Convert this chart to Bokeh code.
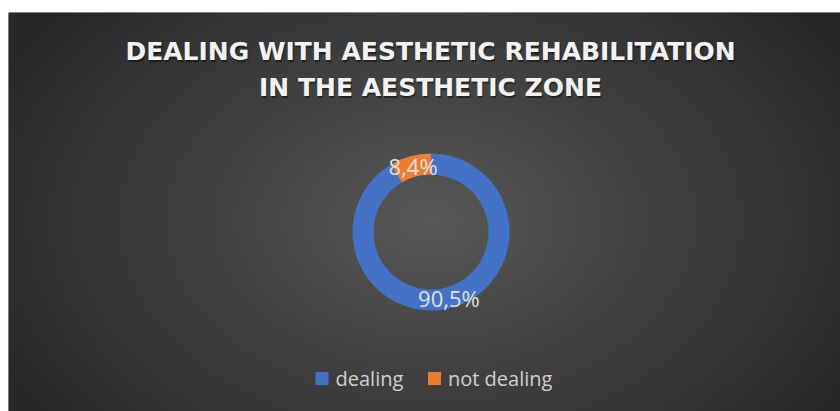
import numpy as np
from bokeh.plotting import figure
from bokeh.models import Range1d, ColumnDataSource
from bokeh.core.properties import value
from bokeh.embed import file_html
from bokeh.resources import INLINE

# ---- data ----
title_lines = ["DEALING WITH AESTHETIC REHABILITATION", "IN THE AESTHETIC ZONE"]
categories = ["dealing", "not dealing"]
percent_values = [90.5, 8.4]
slice_colors = ["#4472C4", "#ED7D31"]

# ---- figure (frame in pixel-like units) ----
FW, FH = 832, 399
p = figure(width=840, height=411, output_backend="svg", toolbar_location=None,
           x_range=Range1d(0, FW), y_range=Range1d(0, FH),
           x_axis_location=None, y_axis_location=None,
           min_border_left=8, min_border_right=0, min_border_bottom=0, min_border_top=12)
p.grid.visible = False
p.outline_line_color = None
p.border_fill_color = "white"
p.background_fill_color = "#3a3a3a"

# radial dark gradient background
xs = np.arange(FW) + 0.5
ys = np.arange(FH) + 0.5
X, Y = np.meshgrid(xs, ys)
gcx, gcy = 422, 191
t = np.clip(np.sqrt(((X - gcx) / 480.0) ** 2 + ((Y - gcy) / 330.0) ** 2), 0, 1)
g = (0x58 + (0x27 - 0x58) * t).astype(np.uint8)
img = np.empty((FH, FW), dtype=np.uint32)
view = img.view(np.uint8).reshape(FH, FW, 4)
view[..., 0] = g
view[..., 1] = g
view[..., 2] = g
view[..., 3] = 255
p.image_rgba(image=[img], x=0, y=0, dw=FW, dh=FH)

# ---- title ----
title_y = [360, 324.5]
for line, ty in zip(title_lines, title_y):
    p.text(x=[423], y=[ty - 2], text=[line], text_align="center", text_baseline="middle",
           text_font=value("DejaVu Sans"), text_font_style="bold", text_font_size="25px",
           text_color="black", text_alpha=0.45)
    p.text(x=[422], y=[ty], text=[line], text_align="center", text_baseline="middle",
           text_font=value("DejaVu Sans"), text_font_style="bold", text_font_size="25px",
           text_color="#f2f2f2")

# ---- donut ----
cx, cy = 422.5, 179.5
vals = np.array(percent_values, dtype=float)
frac = vals / vals.sum()
cum = np.concatenate([[0.0], np.cumsum(frac)])
start = np.pi / 2 - 2 * np.pi * cum[:-1]
end = np.pi / 2 - 2 * np.pi * cum[1:]
mid = (start + end) / 2
src = ColumnDataSource(dict(start=start, end=end, color=slice_colors,
                            lx=cx + 68 * np.cos(mid), ly=cy + 68 * np.sin(mid),
                            label=[f"{v:.1f}".replace(".", ",") + "%" for v in percent_values]))
p.annular_wedge(x=cx, y=cy, inner_radius=57.5, outer_radius=78.5,
                start_angle="start", end_angle="end", direction="clock",
                fill_color="color", line_color=None, source=src)
p.text(x="lx", y="ly", text="label", source=src, text_align="center", text_baseline="middle",
       text_font=value("Open Sans"), text_font_size="22px", text_color="#e0e0e0")

# ---- legend ----
leg_sq_x = [313.5, 426]
leg_y = 33
p.scatter(x=leg_sq_x, y=[leg_y] * 2, marker="square", size=13, fill_color=slice_colors, line_color=None)
p.text(x=[x + 13.5 for x in leg_sq_x], y=[leg_y] * 2, text=categories, text_align="left",
       text_baseline="middle", text_font=value("Open Sans"), text_font_size="20px",
       text_color="#d0d0d0")

open("out.html", "w").write(file_html(p, INLINE))
